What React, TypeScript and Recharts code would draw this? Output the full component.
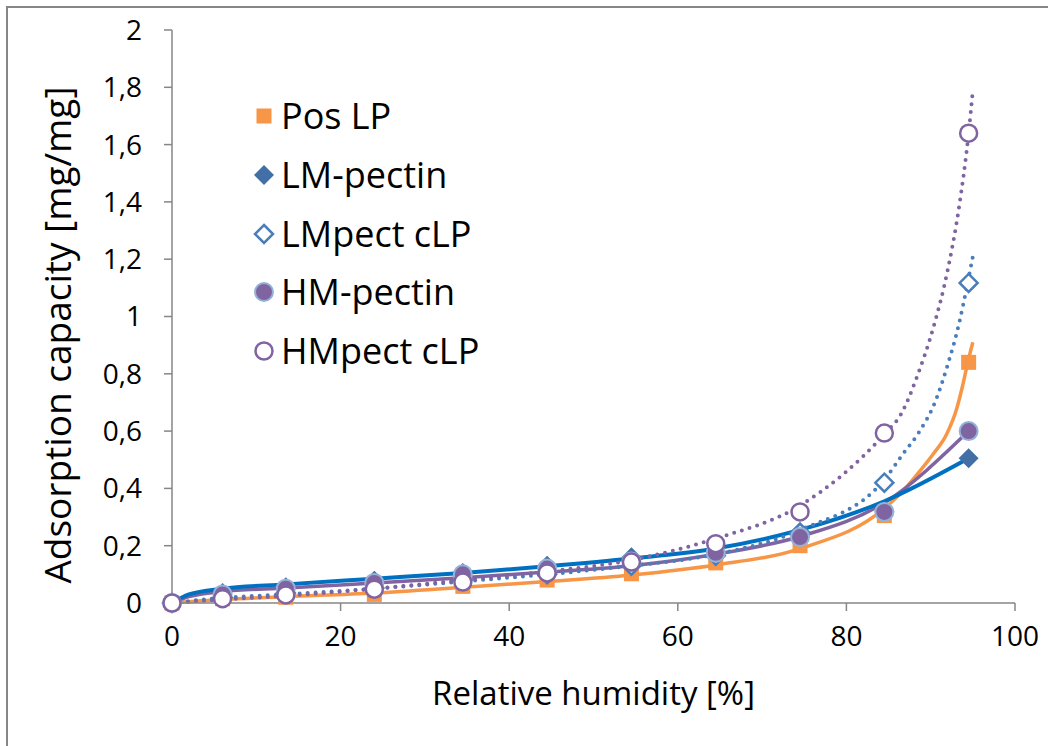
import {
    ComposedChart,
    Line,
    Scatter,
    XAxis,
    YAxis,
    Legend,
} from "recharts";

// relative humidity [%] of the measured points
const rh = [0, 6, 13.5, 24, 34.5, 44.5, 54.5, 64.5, 74.5, 84.5, 94.5];

// measured adsorption capacity [mg/mg]
const posLP = [0, 0.015, 0.02, 0.03, 0.058, 0.08, 0.102, 0.14, 0.2, 0.305, 0.84];
const lmPectin = [0, 0.035, 0.055, 0.078, 0.105, 0.13, 0.16, 0.18, 0.248, 0.32, 0.505];
const lmPectCLP = [0, 0.02, 0.035, 0.052, 0.08, 0.1, 0.13, 0.165, 0.245, 0.42, 1.117];
const hmPectin = [0, 0.03, 0.05, 0.07, 0.1, 0.12, 0.145, 0.175, 0.23, 0.318, 0.6];
const hmPectCLP = [0, 0.015, 0.028, 0.048, 0.073, 0.105, 0.143, 0.207, 0.318, 0.593, 1.64];

// fitted curves
const posLPFitX = [0, 6, 13.5, 24, 34.5, 44.5, 54.5, 64.5, 74.5, 84.5, 87, 88.7, 90.3, 91.9, 93.1, 93.8, 94.4, 95];
const posLPFitY = [0, 0.012, 0.022, 0.035, 0.055, 0.075, 0.098, 0.133, 0.19, 0.33, 0.4, 0.46, 0.52, 0.59, 0.68, 0.76, 0.84, 0.91];

const lmFitX = [0, 2, 6, 13.5, 24, 34.5, 44.5, 54.5, 64.5, 74.5, 84.5, 94.5];
const lmFitY = [0, 0.03, 0.05, 0.065, 0.085, 0.105, 0.128, 0.155, 0.19, 0.255, 0.355, 0.505];

const lmCLPFitX = [0, 6, 13.5, 24, 34.5, 44.5, 54.5, 64.5, 74.5, 84.5, 86.7, 88.7, 90.5, 92, 93.4, 94.4, 95];
const lmCLPFitY = [0, 0.018, 0.03, 0.05, 0.075, 0.1, 0.13, 0.17, 0.255, 0.43, 0.52, 0.6, 0.7, 0.83, 0.98, 1.12, 1.21];

const hmFitX = [0, 2, 6, 13.5, 24, 34.5, 44.5, 54.5, 64.5, 74.5, 84.5, 94.5];
const hmFitY = [0, 0.022, 0.04, 0.052, 0.07, 0.088, 0.108, 0.13, 0.17, 0.232, 0.35, 0.6];

const hmCLPFitX = [0, 6, 13.5, 24, 34.5, 44.5, 54.5, 64.5, 74.5, 84.5, 86.5, 88.5, 90.3, 92, 93.3, 94.5, 95];
const hmCLPFitY = [0, 0.012, 0.025, 0.05, 0.08, 0.11, 0.15, 0.225, 0.34, 0.59, 0.66, 0.8, 0.96, 1.16, 1.37, 1.64, 1.79];

const xTicks = [0, 20, 40, 60, 80, 100];
const yTicks = [0, 0.2, 0.4, 0.6, 0.8, 1, 1.2, 1.4, 1.6, 1.8, 2];

const seriesNames = ["Pos LP", "LM-pectin", "LMpect cLP", "HM-pectin", "HMpect cLP"];

const FONT = "'Open Sans', sans-serif";
const ORANGE = "#F79646";
const BLUE = "#0070C0";
const MARKER_BLUE = "#4270A6";
const LIGHT_BLUE = "#4A7EBB";
const PURPLE = "#8064A2";
const AXIS = "#868686";

const toPoints = (xs: number[], ys: number[]) => xs.map((x, i) => ({ x, y: ys[i] }));

const Square = ({ cx, cy }: any) => (
    <rect x={cx - 7.5} y={cy - 7.5} width={15} height={15} fill={ORANGE} />
);

const Diamond = ({ cx, cy }: any) => (
    <polygon
        points={`${cx},${cy - 10} ${cx + 10},${cy} ${cx},${cy + 10} ${cx - 10},${cy}`}
        fill={MARKER_BLUE}
    />
);

const OpenDiamond = ({ cx, cy }: any) => (
    <polygon
        points={`${cx},${cy - 9} ${cx + 9},${cy} ${cx},${cy + 9} ${cx - 9},${cy}`}
        fill="#fff"
        stroke={LIGHT_BLUE}
        strokeWidth={2.5}
    />
);

const Dot = ({ cx, cy }: any) => (
    <circle cx={cx} cy={cy} r={9} fill={PURPLE} stroke="#95B3D7" strokeWidth={2} />
);

const OpenDot = ({ cx, cy }: any) => (
    <circle cx={cx} cy={cy} r={8.5} fill="#fff" stroke={PURPLE} strokeWidth={2.5} />
);

const markers = [Square, Diamond, OpenDiamond, Dot, OpenDot];

const LegendBox = () => (
    <div style={{ fontFamily: FONT, fontSize: 36, color: "#000", lineHeight: 1 }}>
        {seriesNames.map((name, i) => {
            const Marker = markers[i];
            return (
                <div key={name} style={{ display: "flex", alignItems: "center", height: 58.7 }}>
                    <svg width={26} height={26} style={{ marginRight: 4 }}>
                        <Marker cx={13} cy={13} />
                    </svg>
                    <span>{name}</span>
                </div>
            );
        })}
    </div>
);

const App = () => {
    return (
        <div
            style={{
                position: "absolute",
                left: 6,
                top: 6,
                width: 1042,
                height: 740,
                borderLeft: `2px solid ${AXIS}`,
                borderTop: `2px solid ${AXIS}`,
                background: "#fff",
            }}
        >
            <ComposedChart
                width={1040}
                height={738}
                margin={{ top: 22, right: 33, left: 0, bottom: 0 }}
                style={{ fontFamily: FONT }}
            >
                <XAxis
                    type="number"
                    dataKey="x"
                    domain={[0, 100]}
                    ticks={xTicks}
                    height={143}
                    stroke={AXIS}
                    strokeWidth={1.5}
                    tickSize={8}
                    tickMargin={15}
                    tick={{ fill: "#000", fontSize: 28, fontFamily: FONT }}
                    label={{
                        content: ({ viewBox }: any) => (
                            <text
                                x={viewBox.x + viewBox.width / 2}
                                y={viewBox.y + 102}
                                textAnchor="middle"
                                fontSize={33}
                                fontFamily={FONT}
                                fill="#000"
                            >
                                Relative humidity [%]
                            </text>
                        ),
                    }}
                />
                <YAxis
                    type="number"
                    dataKey="y"
                    domain={[0, 2]}
                    ticks={yTicks}
                    width={164}
                    stroke={AXIS}
                    strokeWidth={1.5}
                    tickSize={8}
                    tickMargin={22}
                    tickFormatter={(v: number) => String(v).replace(".", ",")}
                    tick={{ fill: "#000", fontSize: 28, fontFamily: FONT }}
                    label={{
                        content: () => (
                            <text
                                x={48}
                                y={327}
                                textAnchor="middle"
                                dominantBaseline="central"
                                transform="rotate(-90, 48, 327)"
                                fontSize={37}
                                fontFamily={FONT}
                                fill="#000"
                            >
                                Adsorption capacity [mg/mg]
                            </text>
                        ),
                    }}
                />
                <Legend
                    layout="vertical"
                    align="center"
                    verticalAlign="middle"
                    wrapperStyle={{ left: 243, top: 79, width: 300 }}
                    content={() => <LegendBox />}
                />

                <Line data={toPoints(posLPFitX, posLPFitY)} dataKey="y" type="monotone" stroke={ORANGE} strokeWidth={3.5} dot={false} legendType="none" isAnimationActive={false} />
                <Line data={toPoints(hmFitX, hmFitY)} dataKey="y" type="monotone" stroke={PURPLE} strokeWidth={3.5} dot={false} legendType="none" isAnimationActive={false} />
                <Line data={toPoints(lmFitX, lmFitY)} dataKey="y" type="monotone" stroke={BLUE} strokeWidth={4} dot={false} legendType="none" isAnimationActive={false} />
                <Line data={toPoints(lmCLPFitX, lmCLPFitY)} dataKey="y" type="monotone" stroke={LIGHT_BLUE} strokeWidth={4} strokeDasharray="0 8" strokeLinecap="round" dot={false} legendType="none" isAnimationActive={false} />
                <Line data={toPoints(hmCLPFitX, hmCLPFitY)} dataKey="y" type="monotone" stroke={PURPLE} strokeWidth={4} strokeDasharray="0 8" strokeLinecap="round" dot={false} legendType="none" isAnimationActive={false} />

                <Scatter name={seriesNames[0]} data={toPoints(rh, posLP)} shape={Square} isAnimationActive={false} />
                <Scatter name={seriesNames[1]} data={toPoints(rh, lmPectin)} shape={Diamond} isAnimationActive={false} />
                <Scatter name={seriesNames[2]} data={toPoints(rh, lmPectCLP)} shape={OpenDiamond} isAnimationActive={false} />
                <Scatter name={seriesNames[3]} data={toPoints(rh, hmPectin)} shape={Dot} isAnimationActive={false} />
                <Scatter name={seriesNames[4]} data={toPoints(rh, hmPectCLP)} shape={OpenDot} isAnimationActive={false} />
            </ComposedChart>
        </div>
    );
};

export default App;
